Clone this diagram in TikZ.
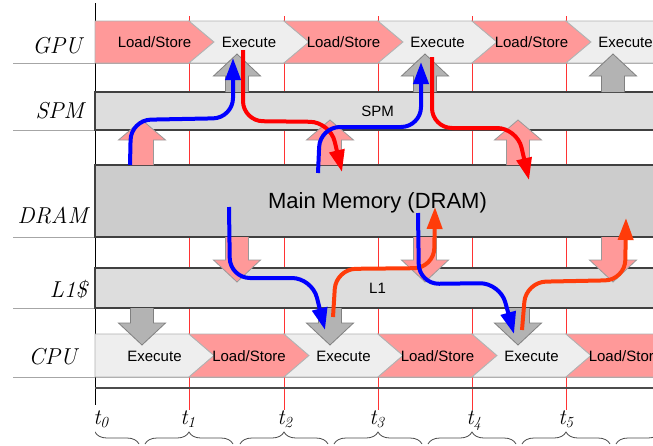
\documentclass[tikz,border=0pt]{standalone}
\usepackage{fontspec}
\setsansfont{Liberation Sans}
\usetikzlibrary{arrows.meta, decorations.pathreplacing}

\definecolor{lspink}{HTML}{FF9999}
\definecolor{exgray}{HTML}{EEEEEE}
\definecolor{boxlight}{HTML}{DDDDDD}
\definecolor{boxdark}{HTML}{CCCCCC}
\definecolor{arrgray}{HTML}{B3B3B3}
\definecolor{linered}{HTML}{FF0000}
\definecolor{lineorange}{HTML}{FF3C0A}
\definecolor{lineblue}{HTML}{0000FF}

\newcommand\lslabel{Load/Store}
\newcommand\exlabel{Execute}

\begin{document}
\begin{tikzpicture}[x=1pt, y=-1pt, >={Triangle[length=22pt,width=15pt]},
    rowlabel/.style={anchor=base east, inner sep=0pt, font=\fontsize{23}{26}\selectfont\itshape},
    tlabel/.style={anchor=base, inner sep=0pt, font=\fontsize{22}{24}\selectfont\itshape},
    membox/.style={draw=black!75, line width=1.2pt, minimum width=565pt, inner sep=0pt, font=\sffamily\fontsize{15}{17}\selectfont},
    stagetext/.style={inner sep=0pt, font=\sffamily\fontsize{15}{17}\selectfont},
    lsfill/.style={fill=lspink, draw=black!30, line width=0.8pt},
    exfill/.style={fill=exgray, draw=black!30, line width=0.8pt},
    pinkarrow/.style={fill=lspink, draw=black!40, line width=0.8pt},
    grayarrow/.style={fill=arrgray, draw=black!50, line width=0.8pt},
    wave/.style={line width=4pt, rounded corners=20pt, ->},
    tbrace/.style={decorate, decoration={brace, amplitude=12pt}, draw=black!70, line width=0.8pt}]

   \fill[white] (0,0) rectangle (653,445);
   \useasboundingbox (0,0) rectangle (653,445);

   % Grid
      \foreach \ry in {63,130,237,308,377}
         \draw[black!35, line width=0.8pt] (13,\ry) -- (653,\ry);
      \foreach \tx in {189,284,378,472,566}
         \draw[red!80, line width=1pt] (\tx,16) -- (\tx,410);
      \draw[black, line width=1pt] (95,3) -- (95,405);
      \draw[black!70, line width=1.2pt] (95,388) -- (653,388);

   % Nodes
      \node[rowlabel] (gpu)  at (82,53)  {GPU};
      \node[rowlabel] (spm)  at (84,118) {SPM};
      \node[rowlabel] (dram) at (88,223) {DRAM};
      \node[rowlabel] (lone) at (87,297) {L1\$};
      \node[rowlabel] (cpu)  at (77,364) {CPU};

      \node[membox, fill=boxlight, minimum height=38pt] (spmbox)  at (377.5,111) {SPM};
      \node[membox, fill=boxdark,  minimum height=72pt] (drambox) at (377.5,201) {};
      \node[font=\sffamily\fontsize{22}{26}\selectfont, inner sep=0pt] (dramtext) at (377.5,203) {Main Memory (DRAM)};
      \node[membox, fill=boxlight, minimum height=40pt] (lonebox) at (377.5,288) {L1};

      % GPU stages
      \foreach \xa/\xb/\nd/\kind [count=\i] in {95/189/0/ls, 189/284/25/ex, 284/378/25/ls,
                                               378/472/25/ex, 472/566/25/ls, 566/660/25/ex}{
         \draw[\kind fill] (\xa,21) -- (\xb,21) -- (\xb+25,42) -- (\xb,63) -- (\xa,63) -- (\xa+\nd,42) -- cycle;
         \node[stagetext] (gpu\i) at ({(\xa+\xb+25)/2},42.5) {\csname\kind label\endcsname};
      }
      % CPU stages
      \foreach \xa/\xb/\nd/\kind [count=\i] in {95/189/0/ex, 189/284/25/ls, 284/378/25/ex,
                                               378/472/25/ls, 472/566/25/ex, 566/660/25/ls}{
         \draw[\kind fill] (\xa,334) -- (\xb,334) -- (\xb+25,355.5) -- (\xb,377) -- (\xa,377) -- (\xa+\nd,355.5) -- cycle;
         \node[stagetext] (cpu\i) at ({(\xa+\xb+25)/2},356) {\csname\kind label\endcsname};
      }

      % block arrows between the levels
      \foreach \cx in {237,425,613}
         \filldraw[grayarrow] (\cx-11.5,92) -- (\cx-11.5,76) -- (\cx-23.5,76) -- (\cx,54) -- (\cx+23.5,76) -- (\cx+11.5,76) -- (\cx+11.5,92);
      \foreach \cx in {142,330,518}
         \filldraw[pinkarrow] (\cx-11.5,165) -- (\cx-11.5,140) -- (\cx-23.5,140) -- (\cx,120) -- (\cx+23.5,140) -- (\cx+11.5,140) -- (\cx+11.5,165);
      \foreach \cx in {237,425,613}
         \filldraw[pinkarrow] (\cx-11.5,237) -- (\cx-11.5,260) -- (\cx-23.5,260) -- (\cx,282) -- (\cx+23.5,260) -- (\cx+11.5,260) -- (\cx+11.5,237);
      \foreach \cx in {142,330,518}
         \filldraw[grayarrow] (\cx-11.5,308) -- (\cx-11.5,323) -- (\cx-23.5,323) -- (\cx,345) -- (\cx+23.5,323) -- (\cx+11.5,323) -- (\cx+11.5,308);

      % time marks
      \node[tlabel] (t0) at (101,424) {t\textsubscript{0}};
      \node[tlabel] (t1) at (188,424) {t\textsubscript{1}};
      \node[tlabel] (t2) at (285,424) {t\textsubscript{2}};
      \node[tlabel] (t3) at (377,424) {t\textsubscript{3}};
      \node[tlabel] (t4) at (474,424) {t\textsubscript{4}};
      \node[tlabel] (t5) at (566,424) {t\textsubscript{5}};
      \begin{scope}
         \clip (95,415) rectangle (653,446);
         \foreach \tx in {95,189,284,378,472,566,660}
            \draw[tbrace] (\tx-44,444) -- (\tx+44,444);
      \end{scope}

   % Paths
      \coordinate (bas) at (130,165);  \coordinate (bae) at (233,58);
      \coordinate (ras) at (243,50);   \coordinate (rae) at (342,172);
      \coordinate (bbs) at (318,173);  \coordinate (bbe) at (421,62);
      \coordinate (rbs) at (432,57);   \coordinate (rbe) at (529,180);
      \coordinate (bcs) at (229,207);  \coordinate (bce) at (325,330);
      \coordinate (rcs) at (333,317);  \coordinate (rce) at (435,207);
      \coordinate (bds) at (418,213);  \coordinate (bde) at (514,334);
      \coordinate (rds) at (522,330);  \coordinate (rde) at (626,218);

      \draw[wave, lineblue]   (bas) -- (131,120) -- (233,118) -- (bae);
      \draw[wave, linered]    (ras) -- (243,121) -- (330,122) -- (rae);
      \draw[wave, lineblue]   (bbs) -- (320,127) -- (421,127) -- (bbe);
      \draw[wave, linered]    (rbs) -- (432,128) -- (517,128) -- (rbe);
      \draw[wave, lineblue]   (bcs) -- (230,278) -- (312,278) -- (bce);
      \draw[wave, lineorange] (rcs) -- (336,269) -- (434,268) -- (rce);
      \draw[wave, lineblue]   (bds) -- (419,284) -- (500,283) -- (bde);
      \draw[wave, lineorange] (rds) -- (526,282) -- (625,280) -- (rde);
   \end{tikzpicture}
\end{document}
